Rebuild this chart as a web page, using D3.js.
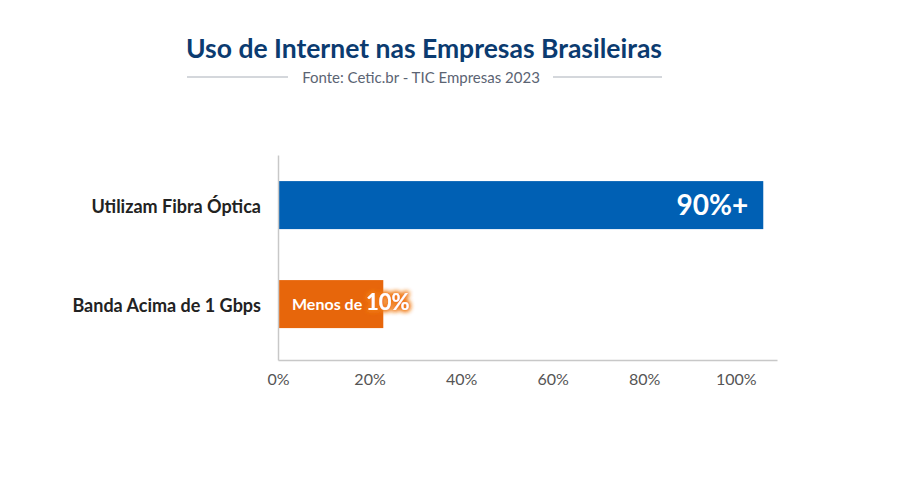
<!DOCTYPE html>
<html>
<head>
<meta charset="utf-8">
<script src="https://cdn.jsdelivr.net/npm/d3@7"></script>
<style>
  body { margin: 0; background: #fff; }
  text { font-family: 'Lato', sans-serif; }
</style>
</head>
<body>
<div id="chart"></div>
<script>
// Chart data
const categories = ['Utilizam Fibra Óptica', 'Banda Acima de 1 Gbps'];
const values = [106, 23]; // bar lengths as drawn in the picture
const barLabels = [['', '90%+'], ['Menos de ', '10%']];
const tickValues = [0, 20, 40, 60, 80, 100];
const title = 'Uso de Internet nas Empresas Brasileiras';
const subtitle = 'Fonte: Cetic.br - TIC Empresas 2023';
const colors = ['#0060b4', '#e7660b'];

const width = 900, height = 500;
const margin = { top: 155, right: 123, bottom: 140, left: 278 };

const svg = d3.select('#chart')
  .append('svg')
  .attr('width', width)
  .attr('height', height);

// glow for the orange label
const defs = svg.append('defs');
const glow = defs.append('filter')
  .attr('id', 'glow')
  .attr('x', '-30%').attr('y', '-50%')
  .attr('width', '160%').attr('height', '200%');
glow.append('feMorphology').attr('in', 'SourceAlpha').attr('operator', 'dilate').attr('radius', 1).attr('result', 'thick');
glow.append('feGaussianBlur').attr('in', 'thick').attr('stdDeviation', 2.5).attr('result', 'blur');
glow.append('feFlood').attr('flood-color', '#f07a1a');
glow.append('feComposite').attr('in2', 'blur').attr('operator', 'in').attr('result', 'shadow');
const merge = glow.append('feMerge');
merge.append('feMergeNode').attr('in', 'shadow');
merge.append('feMergeNode').attr('in', 'shadow');
merge.append('feMergeNode').attr('in', 'SourceGraphic');

// Title
svg.append('text')
  .attr('x', 424)
  .attr('y', 58)
  .attr('text-anchor', 'middle')
  .attr('fill', '#0b3b70')
  .style('font-size', '26.5px')
  .style('font-weight', 'bold')
  .text(title);

svg.append('text')
  .attr('x', 421)
  .attr('y', 83)
  .attr('text-anchor', 'middle')
  .attr('fill', '#5b6473')
  .style('font-size', '15px')
  .text(subtitle);

// lines either side of the subtitle
svg.append('line')
  .attr('x1', 187).attr('x2', 288)
  .attr('y1', 77).attr('y2', 77)
  .attr('stroke', '#a9afb8').attr('stroke-width', 1);
svg.append('line')
  .attr('x1', 553).attr('x2', 662)
  .attr('y1', 77).attr('y2', 77)
  .attr('stroke', '#a9afb8').attr('stroke-width', 1);

// Scales
const x = d3.scaleLinear()
  .domain([0, 109])
  .range([margin.left, width - margin.right]);

const y = d3.scaleBand()
  .domain(categories)
  .range([margin.top, height - margin.bottom])
  .paddingInner(0.515)
  .paddingOuter(0.293)
  .align(0.45);

// Bars
svg.selectAll('.bar')
  .data(categories)
  .enter()
  .append('rect')
  .attr('class', 'bar')
  .attr('x', x(0))
  .attr('y', d => y(d))
  .attr('width', (d, i) => x(values[i]) - x(0))
  .attr('height', y.bandwidth())
  .attr('fill', (d, i) => colors[i]);

// Bar labels
// first bar: right aligned inside
svg.append('text')
  .attr('x', x(values[0]) - 15)
  .attr('y', y(categories[0]) + y.bandwidth() / 2)
  .attr('dy', '0.36em')
  .attr('text-anchor', 'end')
  .attr('fill', '#fff')
  .style('font-size', '28px')
  .style('font-weight', 'bold')
  .text(barLabels[0][1]);

// second bar: left aligned inside, big number glows past the bar end
const lbl = svg.append('text')
  .attr('x', x(0) + 14)
  .attr('y', y(categories[1]) + y.bandwidth() / 2)
  .attr('dy', '0.36em')
  .attr('fill', '#fff')
  .style('font-weight', 'bold');
lbl.append('tspan')
  .style('font-size', '16px')
  .text(barLabels[1][0]);
lbl.append('tspan')
  .style('font-size', '22px')
  .attr('filter', 'url(#glow)')
  .text(barLabels[1][1]);

// Axes
const xAxis = svg.append('g')
  .attr('transform', `translate(0,${height - margin.bottom})`)
  .call(d3.axisBottom(x).tickValues(tickValues).tickFormat(d => d + '%').tickSize(0).tickPadding(14));
xAxis.select('.domain').attr('stroke', '#c8c8c8').attr('stroke-width', 1.5);
xAxis.selectAll('text')
  .attr('fill', '#555')
  .style('font-size', '16px')
  .style('font-family', "'Lato', sans-serif");

const yAxis = svg.append('g')
  .attr('transform', `translate(${margin.left},0)`)
  .call(d3.axisLeft(y).tickSize(0).tickPadding(17));
yAxis.select('.domain').attr('stroke', '#c8c8c8').attr('stroke-width', 1.5);
yAxis.selectAll('text')
  .attr('fill', '#222')
  .attr('dy', '0.42em')
  .style('font-size', '18px')
  .style('font-weight', 'bold')
  .style('font-family', "'Lato', sans-serif");
</script>
</body>
</html>
